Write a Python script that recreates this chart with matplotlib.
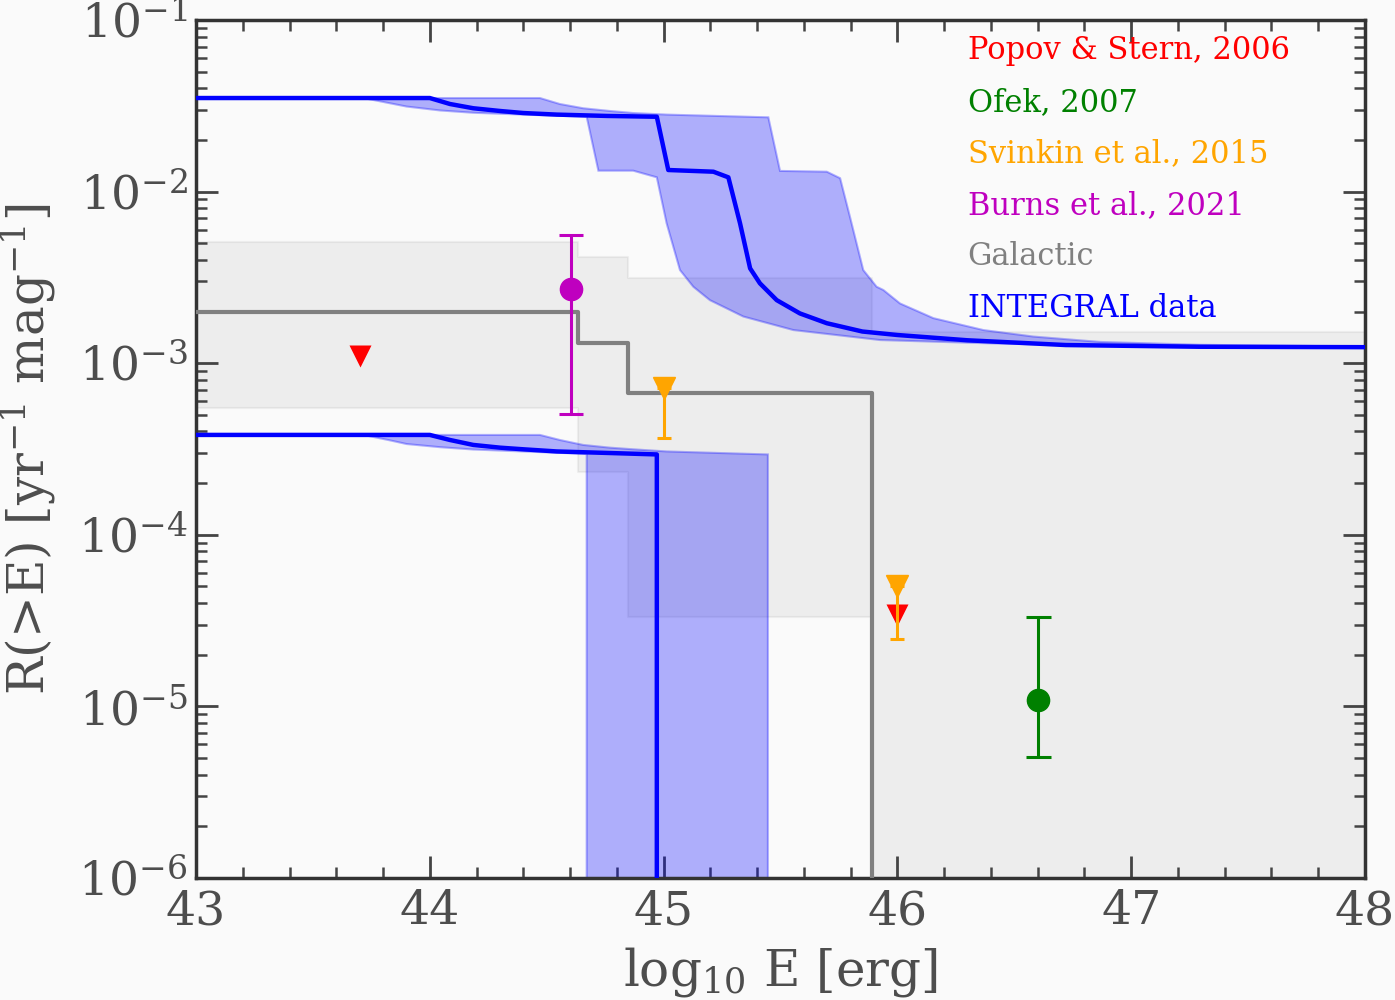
import matplotlib
matplotlib.use("Agg")
import matplotlib.pyplot as plt
from matplotlib.ticker import MultipleLocator, AutoMinorLocator

plt.rcParams['font.family'] = ['DejaVu Serif']
plt.rcParams['mathtext.fontset'] = 'dejavuserif'

floor = 1e-12  # rate dropping to zero (off the bottom of a log axis)

# INTEGRAL data, upper curve and its band
e_up = [43.0, 44.0, 44.086, 44.186, 44.30, 44.40, 44.543, 44.757, 44.971,
        45.020, 45.213, 45.277, 45.327, 45.370, 45.412, 45.484, 45.583,
        45.698, 45.85, 46.0, 46.3, 46.72, 47.29, 48.0]
r_up = [0.0351, 0.0351, 0.0324, 0.0306, 0.0295, 0.0287, 0.0281, 0.0276, 0.0273,
        0.01336, 0.01306, 0.01211, 0.00653, 0.00357, 0.00292, 0.00233, 0.00195,
        0.00171, 0.00153, 0.00146, 0.00136, 0.001276, 0.001247, 0.00124]

e_up_hi = [43.0, 44.471, 44.556, 44.656, 44.77, 44.87, 45.013, 45.227, 45.448,
           45.498, 45.698, 45.755, 45.797, 45.854, 45.911, 45.94, 46.011,
           46.154, 46.368, 46.581, 46.867, 47.294, 48.0]
r_up_hi = [0.0351, 0.0351, 0.0324, 0.0306, 0.0295, 0.0287, 0.0281, 0.0276, 0.0271,
           0.0132, 0.01306, 0.01197, 0.00714, 0.00349, 0.00279, 0.00267, 0.00223,
           0.00183, 0.00156, 0.00143, 0.00133, 0.00128, 0.00125]

e_up_lo = [43.0, 43.716, 43.830, 43.901, 44.044, 44.186, 44.400, 44.671, 44.721,
           44.870, 44.971, 45.013, 45.070, 45.127, 45.198, 45.341, 45.555,
           45.926, 46.44, 47.0, 48.0]
r_up_lo = [0.0351, 0.0351, 0.0327, 0.0313, 0.0297, 0.0288, 0.0281, 0.0273, 0.01324,
           0.01324, 0.01211, 0.00653, 0.00349, 0.00279, 0.00233, 0.00187, 0.00156,
           0.001364, 0.00130, 0.00126, 0.00124]

# INTEGRAL data, lower curve and its band
e_low = [43.0, 44.0, 44.086, 44.186, 44.30, 44.40, 44.543, 44.757, 44.971, 44.971]
r_low = [3.82e-4, 3.82e-4, 3.57e-4, 3.34e-4, 3.22e-4, 3.15e-4, 3.06e-4, 3.00e-4,
         2.94e-4, floor]

e_low_hi = [43.0, 44.471, 44.556, 44.656, 44.77, 44.87, 45.013, 45.227, 45.446, 45.446]
r_low_hi = [3.82e-4, 3.82e-4, 3.57e-4, 3.34e-4, 3.22e-4, 3.15e-4, 3.06e-4, 3.00e-4,
            2.94e-4, floor]

e_low_lo = [43.0, 43.716, 43.830, 43.901, 44.044, 44.186, 44.400, 44.671, 44.671]
r_low_lo = [3.82e-4, 3.82e-4, 3.55e-4, 3.38e-4, 3.24e-4, 3.14e-4, 3.06e-4, 2.96e-4,
            floor]

# Galactic rate (binned) with its range
gal_edges = [43.0, 44.633, 44.846, 45.89, 48.0]
gal_rate = [2.0e-3, 1.32e-3, 6.68e-4, floor]
gal_hi = [5.1e-3, 4.18e-3, 3.15e-3, 1.53e-3]
gal_lo = [5.46e-4, 2.33e-4, 3.33e-5, floor]

# literature points
popov_e = [43.70, 46.0]
popov_r = [1.10e-3, 3.43e-5]

ofek_e = [46.603]
ofek_r = [1.09e-5]
ofek_lo = [5.05e-6]
ofek_hi = [3.30e-5]

svinkin_e = [45.0, 46.0]
svinkin_r = [7.14e-4, 5.03e-5]
svinkin_lo = [3.68e-4, 2.46e-5]

burns_e = [44.604]
burns_r = [2.70e-3]
burns_lo = [5.06e-4]
burns_hi = [5.58e-3]

labels = ["Popov & Stern, 2006", "Ofek, 2007", "Svinkin et al., 2015",
          "Burns et al., 2021", "Galactic", "INTEGRAL data"]
label_colors = ["red", "green", "orange", "m", "gray", "blue"]

bg = '#fafafa'
txt = '#4d4d4d'

fig = plt.figure(figsize=(13.95, 10), dpi=100, facecolor=bg)
ax = fig.add_axes([0.1405, 0.122, 0.838, 0.858])
ax.set_facecolor(bg)
ax.set_yscale('log')

# galactic band + step line
ax.fill_between(gal_edges, gal_lo + [gal_lo[-1]], gal_hi + [gal_hi[-1]],
                step='post', color='gray', alpha=0.1, lw=1.5, zorder=1)
ax.step(gal_edges, gal_rate + [gal_rate[-1]], where='post', color='gray', lw=3, zorder=3)

# INTEGRAL bands
ax.fill(e_up_hi + e_up_lo[::-1], r_up_hi + r_up_lo[::-1],
        facecolor='blue', edgecolor='blue', alpha=0.3, lw=1.5, zorder=2)
ax.fill(e_low_hi + e_low_lo[::-1], r_low_hi + r_low_lo[::-1],
        facecolor='blue', edgecolor='blue', alpha=0.3, lw=1.5, zorder=2)
ax.plot(e_up, r_up, color='blue', lw=3.2, zorder=4)
ax.plot(e_low, r_low, color='blue', lw=3.2, zorder=4)

# points
ax.plot(popov_e, popov_r, 'v', color='red', ms=16, mec='none', zorder=5)
ax.errorbar(ofek_e, ofek_r,
            yerr=[[r - l for r, l in zip(ofek_r, ofek_lo)],
                  [h - r for r, h in zip(ofek_r, ofek_hi)]],
            fmt='o', color='green', ms=16, elinewidth=2.2, capsize=9, capthick=2.2, zorder=6)
ax.errorbar(svinkin_e, svinkin_r,
            yerr=[[r - l for r, l in zip(svinkin_r, svinkin_lo)], [0] * len(svinkin_r)],
            fmt='v', color='orange', ms=16, elinewidth=2.2, capsize=4.7, capthick=2.2, zorder=6)
ax.errorbar(burns_e, burns_r,
            yerr=[[r - l for r, l in zip(burns_r, burns_lo)],
                  [h - r for r, h in zip(burns_r, burns_hi)]],
            fmt='o', color='m', ms=16, elinewidth=2.2, capsize=8.6, capthick=2.2, zorder=6)

# coloured legend text
for i, (lab, col) in enumerate(zip(labels, label_colors)):
    ax.text(0.660, 0.9542 - 0.0600 * i, lab, color=col, fontsize=22,
            transform=ax.transAxes, va='baseline', ha='left', zorder=7)

ax.set_xlim(43, 48)
ax.set_ylim(1e-6, 1e-1)
ax.xaxis.set_major_locator(MultipleLocator(1))
ax.xaxis.set_minor_locator(AutoMinorLocator(5))

ax.tick_params(which='both', direction='in', top=True, right=True,
               colors='#444444', labelcolor=txt)
ax.tick_params(which='major', length=16, width=2, labelsize=34)
ax.tick_params(axis='x', which='major', pad=8)
ax.tick_params(axis='y', which='major', pad=6)
ax.tick_params(which='minor', length=8, width=1.8)
for s in ax.spines.values():
    s.set_linewidth(2.5)
    s.set_color('#333333')

ax.set_xlabel(r'log$_{10}$ E [erg]', fontsize=36, color=txt)
ax.set_ylabel(r'R(>E) [yr$^{-1}$ mag$^{-1}$]', fontsize=36, color=txt)
ax.xaxis.set_label_coords(0.5, -0.078)
ax.yaxis.set_label_coords(-0.118, 0.5)

fig.savefig('out.png', dpi=100, facecolor=bg)
